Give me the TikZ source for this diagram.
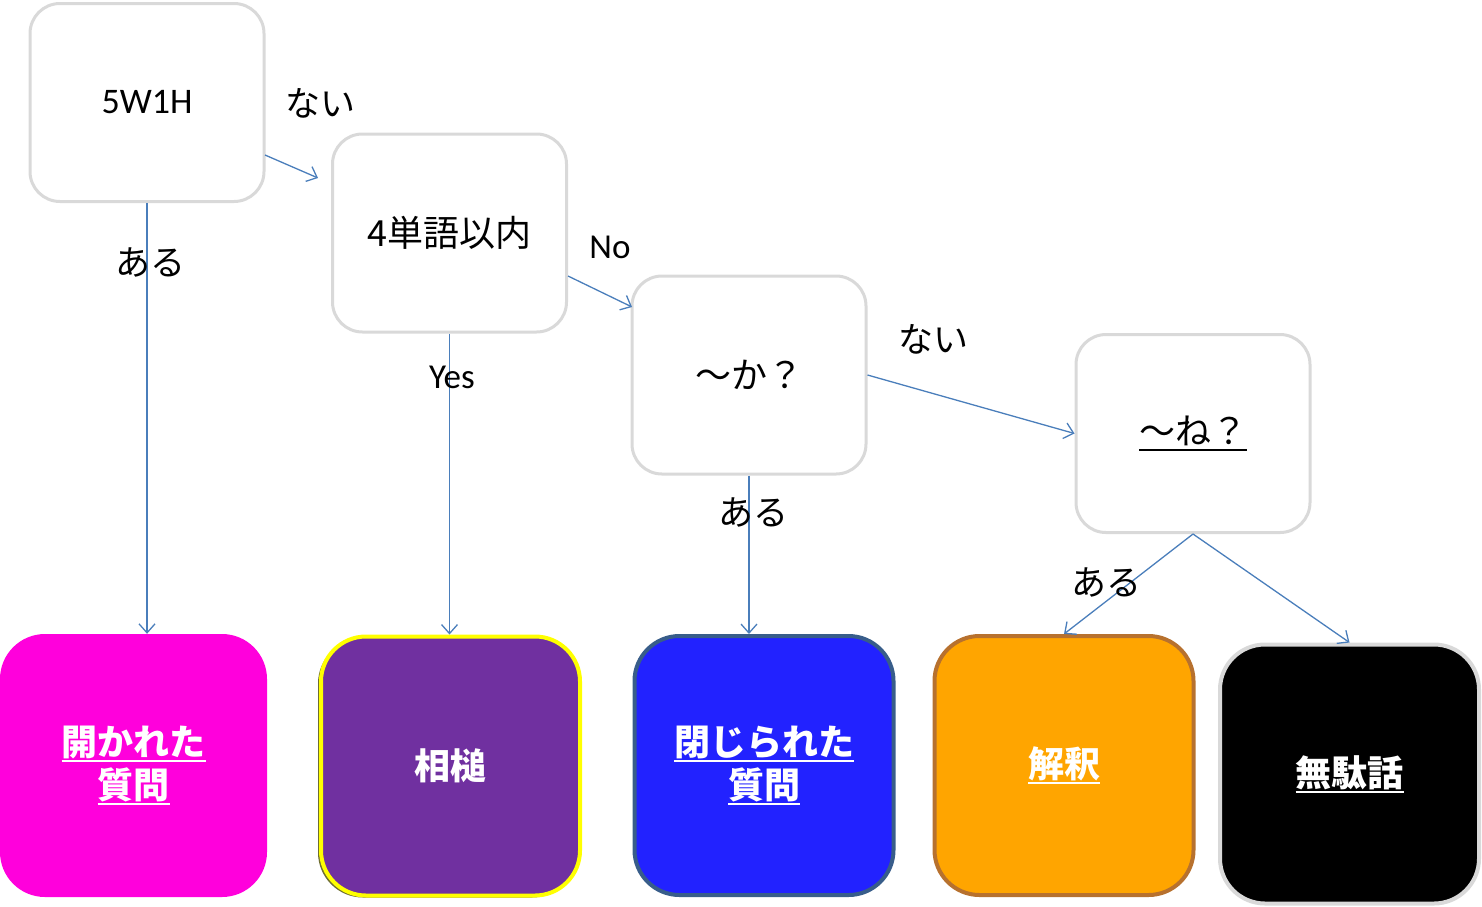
\documentclass[tikz,border=0pt]{standalone}
\usepackage{fontspec}
\usetikzlibrary{arrows.meta,shadows}
\newfontfamily\jp{Noto Sans CJK JP}
\newfontfamily\lat{Carlito}
\newcommand{\ulin}[1]{\leavevmode\setbox0=\hbox{#1}\rlap{\rule[-0.17em]{\wd0}{0.055em}}\box0}
\definecolor{boxgray}{RGB}{217,217,217}
\definecolor{arrowblue}{RGB}{74,126,187}
\definecolor{magentabox}{RGB}{255,0,220}
\definecolor{purplebox}{RGB}{112,48,160}
\definecolor{bluebox}{RGB}{34,34,255}
\definecolor{blueedge}{RGB}{56,93,138}
\definecolor{orangebox}{RGB}{255,165,0}
\definecolor{orangeedge}{RGB}{183,113,46}
\definecolor{yellowedge}{RGB}{255,255,0}
\definecolor{shadowolive}{RGB}{110,110,50}
\tikzset{
  qbox/.style={draw=boxgray, line width=3pt, fill=white, rounded corners=30pt,
    minimum width=234pt, minimum height=198pt, inner sep=0pt, font=\jp\fontsize{36}{43}\selectfont},
  abox/.style={rounded corners=45pt, minimum width=259pt, minimum height=259pt, inner sep=0pt,
    align=center, text=white, font=\jp\bfseries\fontsize{36}{43}\selectfont},
  conn/.style={draw=arrowblue, line width=1.3pt, -{Straight Barb[length=9pt,width=16pt]}},
  lbl/.style={font=\jp\fontsize{35}{40}\selectfont, inner sep=0pt},
  lbll/.style={font=\lat\fontsize{35}{40}\selectfont, inner sep=0pt}
}
\begin{document}
\begin{tikzpicture}[x=1pt,y=-1pt]
\useasboundingbox (0,0) rectangle (1482,906);
% question boxes
\node[qbox] (w) at (147,102.5) {\lat\fontsize{36}{43}\selectfont 5W1H};
\node[qbox] (four) at (449.5,233) {4単語以内};
\node[qbox] (ka) at (749,375) {～か？};
\node[qbox] (ne) at (1193,433.5) {\ulin{～ね？}};
% answer boxes
\node[abox, fill=magentabox, minimum width=267pt, minimum height=263pt] (open) at (133.5,765.5) {\ulin{開かれた}\\\ulin{質問}};
\node[abox, fill=purplebox, draw=yellowedge, line width=4pt,
  drop shadow={shadow xshift=-3pt, shadow yshift=-2pt, fill=shadowolive, opacity=1}] (aiz) at (450.5,766) {相槌};
\node[abox, fill=bluebox, draw=blueedge, line width=4pt] (closed) at (764,765.5) {\ulin{閉じられた}\\\ulin{質問}};
\node[abox, fill=orangebox, draw=orangeedge, line width=4pt] (kai) at (1064,765.5) {\ulin{解釈}};
\node[abox, fill=black, draw=boxgray, line width=4pt] (muda) at (1349.5,774) {\ulin{無駄話}};
% connector end points
\coordinate (w1) at (265,155);
\coordinate (w2) at (318,178);
\coordinate (f1) at (568,276);
\coordinate (f2) at (632,307);
% connectors
\draw[conn] (w.south) -- (w.south |- open.north);
\draw[conn] (w1) -- (w2);
\draw[conn] (four.south) -- (four.south |- aiz.north);
\draw[conn] (f1) -- (f2);
\draw[conn] (ka.south) -- (ka.south |- closed.north);
\draw[conn] (ka.east) -- (ne.west);
\draw[conn] (ne.south) -- (kai.north);
\draw[conn] (ne.south) -- (muda.north);
% labels
\node[lbl] (l1) at (150,262) {ある};
\node[lbl] (l2) at (320,103) {ない};
\node[lbll] (l3) at (452,377) {Yes};
\node[lbll] (l4) at (610,247) {No};
\node[lbl] (l5) at (753,512) {ある};
\node[lbl] (l6) at (933,339) {ない};
\node[lbl] (l7) at (1106,582) {ある};
\end{tikzpicture}
\end{document}
